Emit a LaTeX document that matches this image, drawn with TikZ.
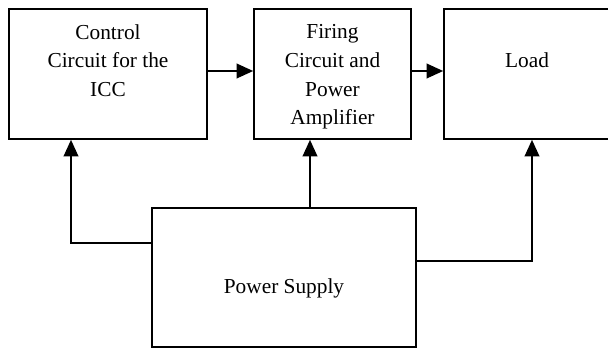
\documentclass[tikz,border=0pt]{standalone}
\usepackage{fontspec}
\setmainfont{Liberation Serif}
\newfontfamily\timesfont{Liberation Serif}
\usetikzlibrary{arrows.meta, positioning, calc}

\tikzset{
  box/.style={rectangle,draw=black,line width=1.2pt,inner sep=0pt},
  lbl/.style={align=center,inner sep=0pt,font=\timesfont\fontsize{16}{21.5}\selectfont},
  flow/.style={line width=1.5pt,-{Triangle[length=12.5pt,width=11pt]}},
}

\begin{document}
\begin{tikzpicture}[x=0.75pt,y=-0.75pt]
    \useasboundingbox (0,0) rectangle (608,349);
    \clip (0,0) rectangle (608,349);

    % Blocchi superiori
    \node[box,minimum width=148.5pt,minimum height=97.5pt] (ctrl) at (108,74) {};
    \node[box,minimum width=117.75pt,minimum height=97.5pt] (fire) at (332.5,74) {};
    \node[box,minimum width=124.5pt,minimum height=97.5pt] (load) at (527,74) {};

    % Alimentazione
    \node[box,minimum width=198pt,minimum height=104pt] (psu) at (284,277.5) {};

    % Testi
    \node[lbl,below=12pt of ctrl.north] (ctrltxt) {Control\\Circuit for the\\ICC};
    \node[lbl,below=12.3pt of fire.north] (firetxt) {Firing\\Circuit and\\Power\\Amplifier};
    \node[lbl,below=33.3pt of load.north] (loadtxt) {Load};
    \node[lbl,below=53.5pt of psu.north] (psutxt) {Power Supply};

    % Prese sull'alimentazione
    \coordinate (psuL) at ($(psu.west)+(0,-34)$);
    \coordinate (psuR) at ($(psu.east)+(0,-16)$);

    % Connessioni
    \draw[flow] ($(ctrl.east)+(0,-3)$) -- ($(fire.west)+(0,-3)$);
    \draw[flow] ($(fire.east)+(0,-3)$) -- ($(load.west)+(0,-3)$);
    \draw[flow] (psuL) -| ($(ctrl.south)+(-37,0)$);
    \draw[flow] ($(psu.north)+(26,0)$) -- ($(fire.south)+(-22.5,0)$);
    \draw[flow] (psuR) -| ($(load.south)+(5,0)$);
\end{tikzpicture}
\end{document}
